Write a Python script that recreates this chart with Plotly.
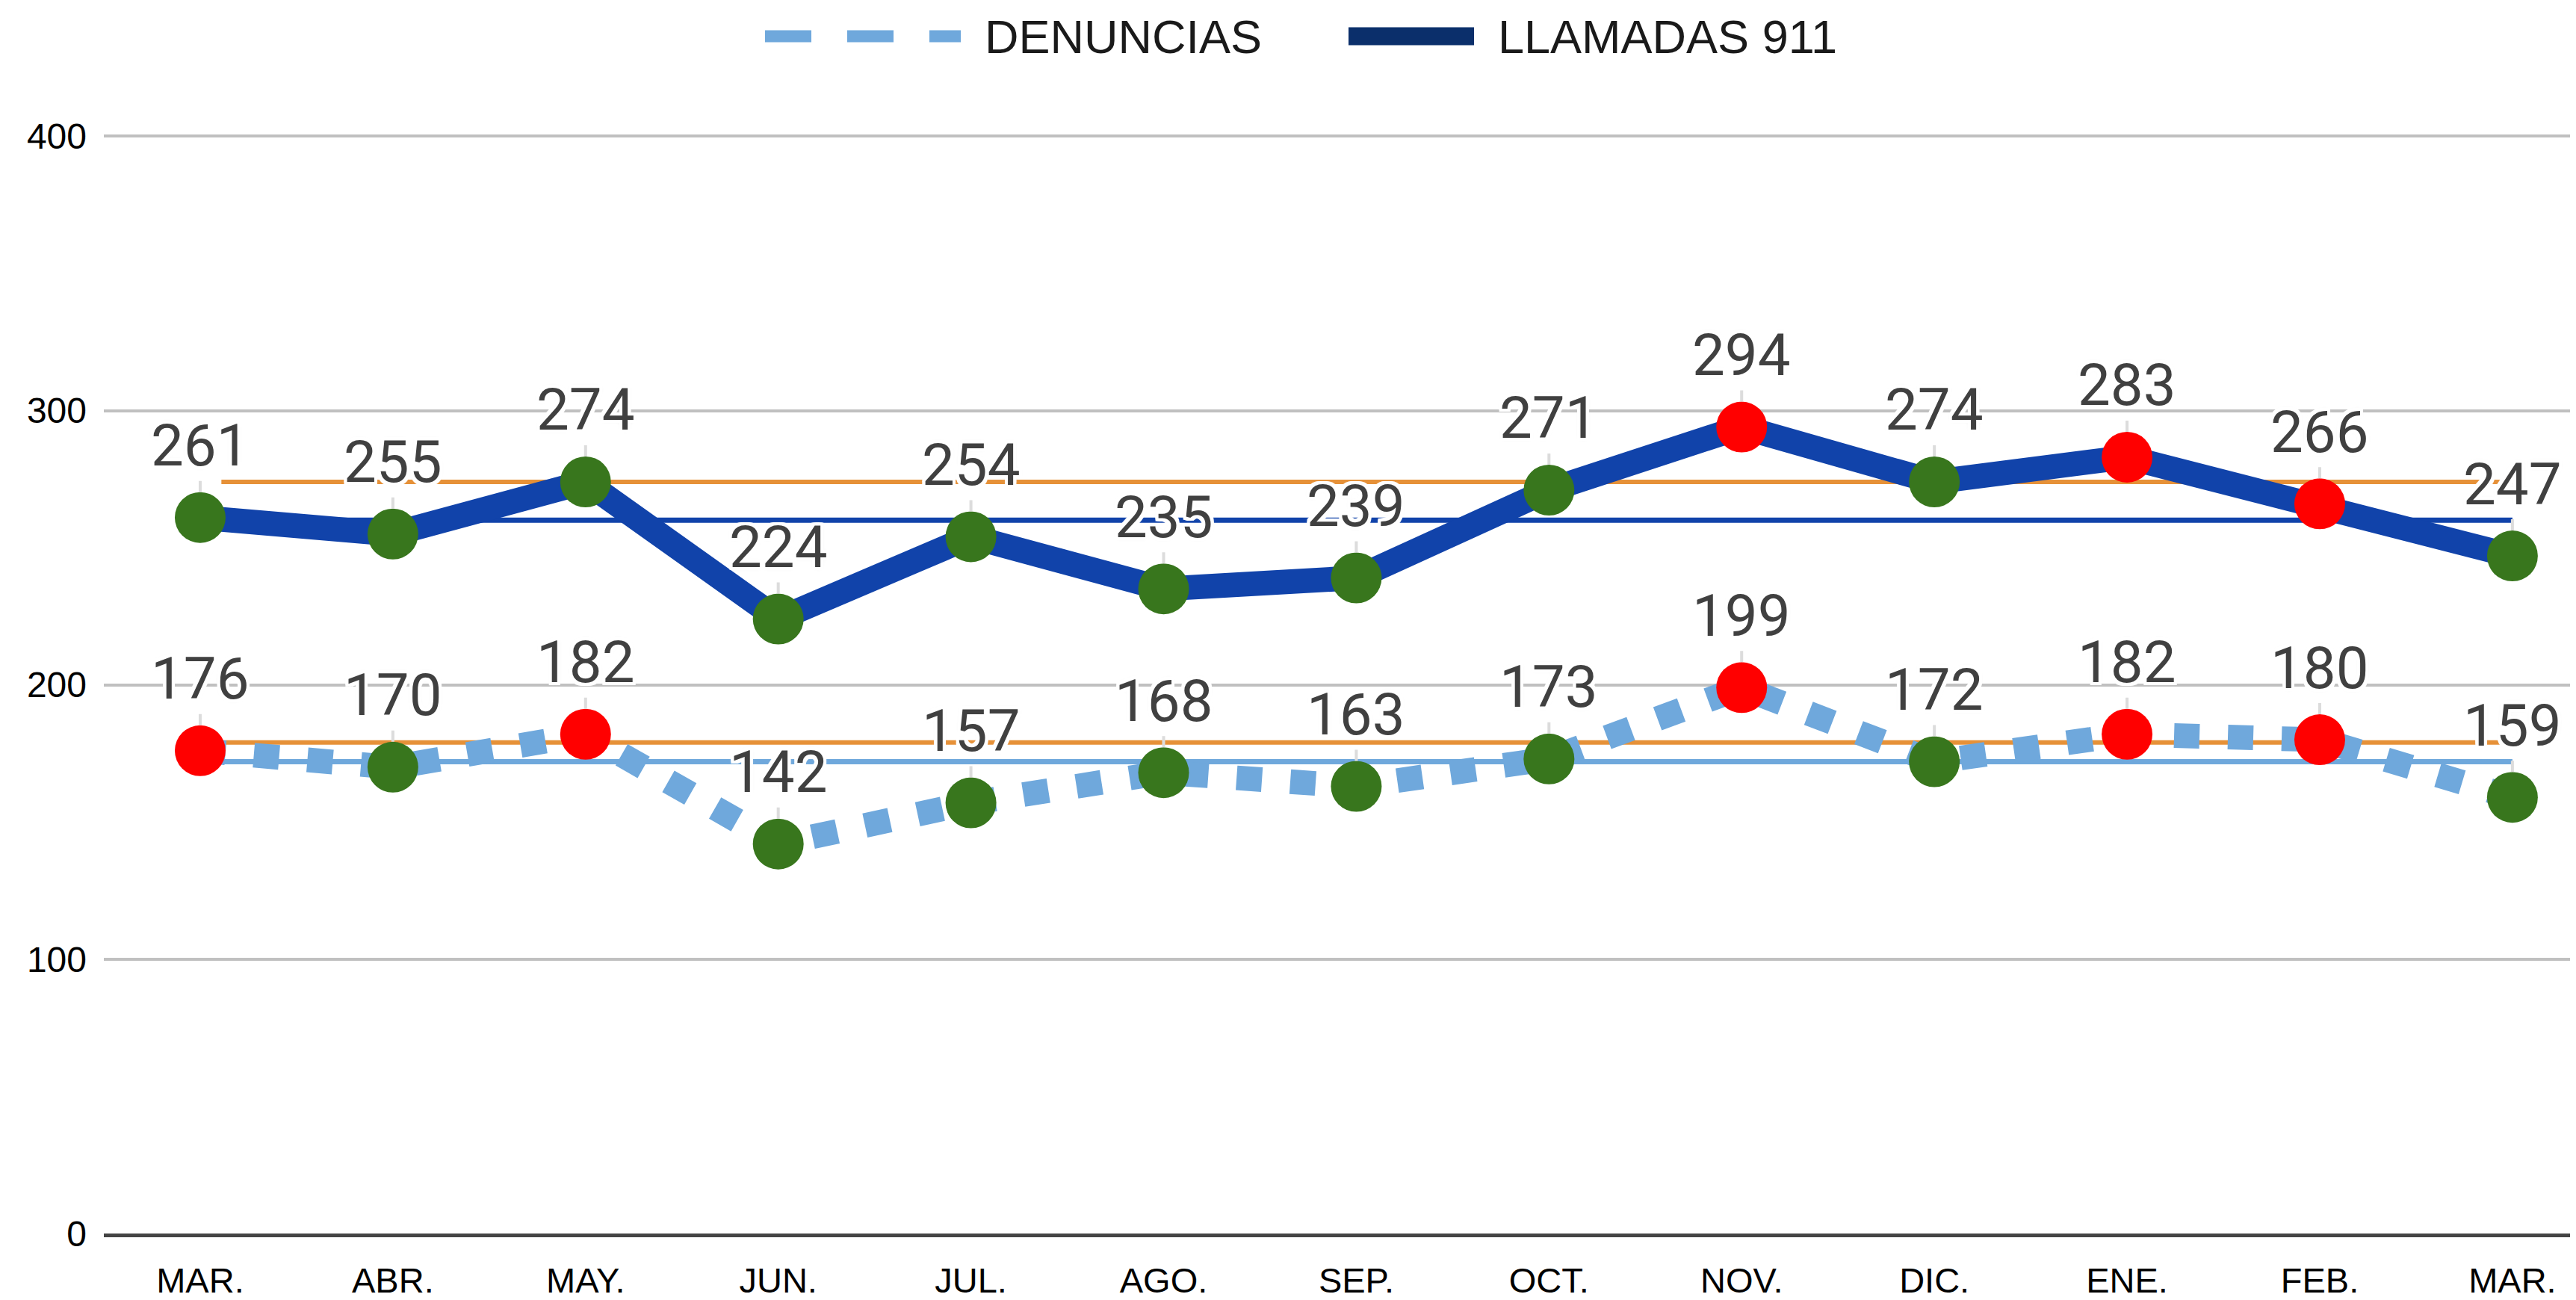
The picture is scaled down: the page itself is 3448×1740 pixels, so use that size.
import plotly.graph_objects as go

# ---------------- data ----------------
months = ["MAR.", "ABR.", "MAY.", "JUN.", "JUL.", "AGO.", "SEP.", "OCT.",
          "NOV.", "DIC.", "ENE.", "FEB.", "MAR."]
llamadas = [261, 255, 274, 224, 254, 235, 239, 271, 294, 274, 283, 266, 247]
denuncias = [176, 170, 182, 142, 157, 168, 163, 173, 199, 172, 182, 180, 159]
llamadas_flag = ["G", "G", "G", "G", "G", "G", "G", "G", "R", "G", "R", "R", "G"]
denuncias_flag = ["R", "G", "R", "G", "G", "G", "G", "G", "R", "G", "R", "R", "G"]
llamadas_promedio = 260
llamadas_umbral = 274
denuncias_promedio = 172
denuncias_umbral = 179
y_ticks = [0, 100, 200, 300, 400]

# ---------------- styles ----------------
OFF = 8                     # default page body margin
W, H = 3448 - OFF, 1740 - OFF
L, R, T, B = 131, 0, 167, 82
PW, PH = W - L - R, H - T - B
GREEN, RED = "#38761d", "#ff0000"
DARK_BLUE, LEGEND_BLUE = "#1143aa", "#0b2f6b"
LIGHT_BLUE, ORANGE = "#6fa8dc", "#e69138"
flag_color = {"G": GREEN, "R": RED}
xs = list(range(len(months)))


def px_x(page_x):
    return (page_x - OFF - L) / PW


def px_y(page_y):
    return (H - B - (page_y - OFF)) / PH


fig = go.Figure()

# reference lines (under the data)
ref_start = 0.11
for val, col, start in [(llamadas_umbral, ORANGE, ref_start),
                        (llamadas_promedio, DARK_BLUE, 0),
                        (denuncias_umbral, ORANGE, ref_start),
                        (denuncias_promedio, LIGHT_BLUE, 0)]:
    fig.add_trace(go.Scatter(x=[start, xs[-1]], y=[val, val], mode="lines",
                             line=dict(color=col, width=6 if col == ORANGE else 7),
                             showlegend=False, hoverinfo="skip"))

fig.add_trace(go.Scatter(
    x=xs, y=llamadas, mode="lines+markers", name="LLAMADAS 911",
    line=dict(color=DARK_BLUE, width=33),
    marker=dict(size=68, color=[flag_color[f] for f in llamadas_flag], line=dict(width=0)),
    showlegend=False))

fig.add_trace(go.Scatter(
    x=xs, y=denuncias, mode="lines+markers", name="DENUNCIAS",
    line=dict(color=LIGHT_BLUE, width=33, dash="34px,38px"),
    marker=dict(size=68, color=[flag_color[f] for f in denuncias_flag], line=dict(width=0)),
    showlegend=False))

halo = ", ".join(f"{dx}px {dy}px 0 #ffffff" for dx in (-4, -2, 0, 2, 4)
                 for dy in (-4, -2, 0, 2, 4) if (dx, dy) != (0, 0))
halo += ", 0 0 6px #dddddd"

annotations = []
for series in (llamadas, denuncias):
    for x, v in zip(xs, series):
        annotations.append(dict(
            x=x, y=v, xref="x", yref="y", text=str(v),
            showarrow=True, arrowhead=0, arrowwidth=4, arrowcolor="#dcdcdc",
            ax=0, ay=-96, standoff=34,
            font=dict(family="Roboto", size=78, color="#404040", shadow=halo)))

# custom legend
leg_y = px_y(48)
shapes = [
    dict(type="line", xref="paper", yref="paper", x0=px_x(1024), x1=px_x(1286),
         y0=leg_y, y1=leg_y, line=dict(color=LIGHT_BLUE, width=16, dash="62px,48px")),
    dict(type="line", xref="paper", yref="paper", x0=px_x(1805), x1=px_x(1973),
         y0=leg_y, y1=leg_y, line=dict(color=LEGEND_BLUE, width=24)),
]
for txt, xp in [("DENUNCIAS", 1316), ("LLAMADAS 911", 2003)]:
    annotations.append(dict(
        x=px_x(xp), y=leg_y, xref="paper", yref="paper", text=txt,
        showarrow=False, xanchor="left", yanchor="middle",
        font=dict(family="Liberation Sans, Arial", size=63, color="#1a1a1a")))

fig.update_layout(
    width=W, height=H,
    margin=dict(l=L, r=R, t=T, b=B, pad=0),
    paper_bgcolor="white", plot_bgcolor="white",
    showlegend=False,
    annotations=annotations, shapes=shapes,
    xaxis=dict(range=[-0.5, 12.33], tickmode="array", tickvals=xs, ticktext=months,
               showgrid=False, zeroline=False, showline=True, linecolor="#444444",
               linewidth=5, ticks="", ticklabelstandoff=18,
               tickfont=dict(family="Liberation Sans, Arial", size=47, color="#000000")),
    yaxis=dict(range=[0, 402], tickmode="array", tickvals=y_ticks,
               showgrid=True, gridcolor="#c0c0c0", gridwidth=4, zeroline=False,
               showline=False, ticks="", ticklabelstandoff=22,
               tickfont=dict(family="Liberation Sans, Arial", size=48, color="#000000")),
)

fig.write_html("out.html")
